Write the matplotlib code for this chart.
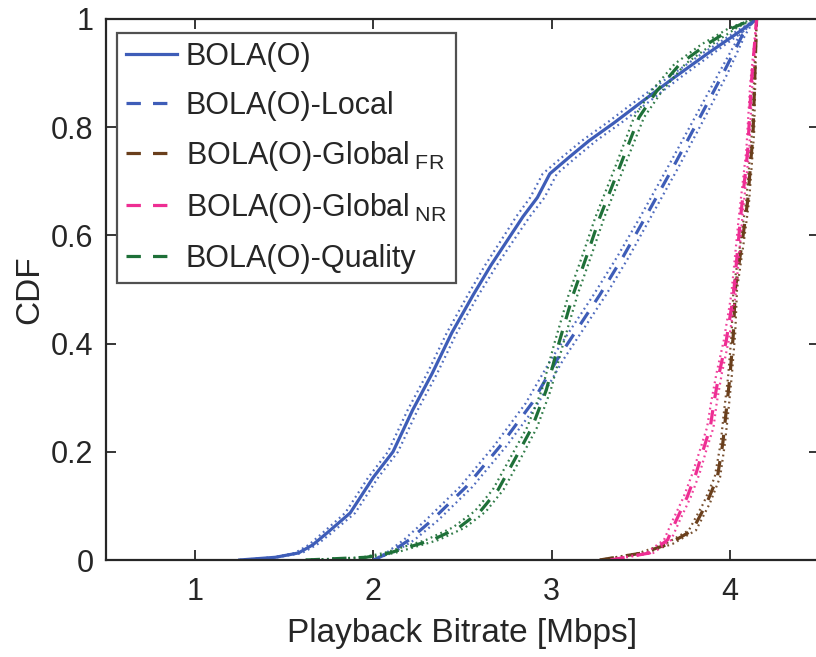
import matplotlib
matplotlib.use("Agg")
import matplotlib.pyplot as plt
import numpy as np

plt.rcParams['font.family'] = ['Liberation Sans', 'DejaVu Sans']

# ---- data (x = bitrate in Mbps, y = CDF) ----
bola_x = [1.25, 1.45, 1.58, 1.66, 1.74, 1.87, 2.00, 2.11, 2.22, 2.33, 2.44, 2.56, 2.66, 2.75, 2.84, 2.92, 2.99, 3.10, 3.21, 3.35, 3.49, 3.68, 3.87, 4.06, 4.15]
bola_y = [0.00, 0.005, 0.013, 0.028, 0.05, 0.087, 0.153, 0.20, 0.277, 0.345, 0.42, 0.49, 0.545, 0.59, 0.635, 0.67, 0.714, 0.745, 0.775, 0.808, 0.843, 0.89, 0.935, 0.978, 1.00]
bola_band = [0.00, 0.01, 0.02, 0.022, 0.025, 0.028, 0.028, 0.028, 0.028, 0.028, 0.028, 0.03, 0.033, 0.035, 0.038, 0.04, 0.04, 0.04, 0.04, 0.04, 0.04, 0.035, 0.03, 0.02, 0.00]

local_x = [2.00, 2.10, 2.20, 2.33, 2.52, 2.71, 2.89, 3.03, 3.15, 3.27, 3.40, 3.52, 3.68, 3.83, 3.96, 4.07, 4.14]
local_y = [0.00, 0.015, 0.037, 0.074, 0.135, 0.21, 0.29, 0.37, 0.43, 0.49, 0.56, 0.63, 0.725, 0.817, 0.898, 0.97, 1.00]
local_band = [0.0, 0.02, 0.03, 0.035, 0.035, 0.035, 0.035, 0.035, 0.035, 0.035, 0.033, 0.03, 0.03, 0.028, 0.025, 0.015, 0.0]

fr_x = [3.27, 3.51, 3.66, 3.79, 3.87, 3.93, 3.96, 3.98, 4.00, 4.02, 4.03, 4.07, 4.10, 4.13, 4.15]
fr_y = [0.00, 0.013, 0.03, 0.055, 0.105, 0.153, 0.215, 0.277, 0.338, 0.42, 0.50, 0.59, 0.664, 0.79, 1.00]
fr_band = [0.0, 0.02, 0.02, 0.02, 0.018, 0.015, 0.012, 0.012, 0.01, 0.01, 0.01, 0.009, 0.008, 0.006, 0.0]

nr_x = [3.33, 3.55, 3.65, 3.70, 3.76, 3.81, 3.85, 3.89, 3.91, 3.94, 3.98, 4.02, 4.06, 4.10, 4.12, 4.15]
nr_y = [0.00, 0.013, 0.037, 0.074, 0.116, 0.16, 0.203, 0.245, 0.29, 0.345, 0.406, 0.49, 0.633, 0.756, 0.88, 1.00]
nr_band = [0.0, 0.02, 0.02, 0.02, 0.02, 0.02, 0.018, 0.018, 0.016, 0.015, 0.014, 0.012, 0.01, 0.008, 0.006, 0.0]

qual_x = [1.62, 1.96, 2.09, 2.33, 2.48, 2.60, 2.70, 2.80, 2.89, 2.97, 3.04, 3.12, 3.20, 3.27, 3.38, 3.49, 3.59, 3.72, 3.87, 4.02, 4.13]
qual_y = [0.00, 0.005, 0.013, 0.037, 0.06, 0.09, 0.13, 0.19, 0.245, 0.314, 0.40, 0.49, 0.565, 0.633, 0.725, 0.818, 0.867, 0.917, 0.953, 0.984, 1.00]
qual_band = [0.0, 0.02, 0.03, 0.035, 0.035, 0.032, 0.03, 0.03, 0.028, 0.025, 0.025, 0.025, 0.025, 0.025, 0.025, 0.028, 0.03, 0.03, 0.03, 0.02, 0.0]

labels = ['BOLA(O)', 'BOLA(O)-Local', r'BOLA(O)-Global$\,_{\mathregular{FR}}$',
          r'BOLA(O)-Global$\,_{\mathregular{NR}}$', 'BOLA(O)-Quality']
colors = ['#3E5DB8', '#3E5DB8', '#6A3F1C', '#EE2E93', '#1E7038']
styles = ['-', (0, (4.5, 3.8)), (0, (4.5, 3.8)), (0, (4.5, 3.8)), (0, (4.5, 3.8))]

xticks = [1, 2, 3, 4]
yticks = [0, 0.2, 0.4, 0.6, 0.8, 1]
ytick_labels = ['0', '0.2', '0.4', '0.6', '0.8', '1']

fig = plt.figure(figsize=(8.16, 6.57), dpi=100)
ax = fig.add_axes([106 / 816, 1 - 560 / 657, (819 - 106) / 816, (560 - 19) / 657])

series = [(bola_x, bola_y, bola_band), (local_x, local_y, local_band),
          (fr_x, fr_y, fr_band), (nr_x, nr_y, nr_band), (qual_x, qual_y, qual_band)]

handles = []
for (sx, sy, sb), lab, col, ls in zip(series, labels, colors, styles):
    sx = np.asarray(sx); sy = np.asarray(sy); sb = np.asarray(sb)
    ax.plot(sx - sb, sy, color=col, lw=1.6, ls=(0, (0.8, 1.6)), alpha=0.9)
    ax.plot(sx + sb, sy, color=col, lw=1.6, ls=(0, (0.8, 1.6)), alpha=0.9)
    h, = ax.plot(sx, sy, color=col, lw=2.3, ls=ls, label=lab)
    handles.append(h)

ax.set_xlim(0.5, 4.5)
ax.set_ylim(0, 1)
ax.set_xticks(xticks)
ax.set_yticks(yticks)
ax.set_yticklabels(ytick_labels)
ax.tick_params(direction='in', length=7, width=1.3, labelsize=22, colors='#262626',
               top=True, right=True)
ax.tick_params(axis='x', pad=12)
ax.tick_params(axis='y', pad=9)
for s in ax.spines.values():
    s.set_linewidth(1.6)
    s.set_color('#262626')
ax.set_xlabel('Playback Bitrate [Mbps]', fontsize=24, color='#262626', labelpad=8)
ax.set_ylabel('CDF', fontsize=24, color='#262626', labelpad=4)

leg = ax.legend(handles=handles, loc='upper left', bbox_to_anchor=(11 / 713, 1 - 14 / 541),
                fontsize=22, frameon=True, fancybox=False, edgecolor='#262626',
                handlelength=1.65, handletextpad=0.3, borderpad=0.3, labelspacing=0.6,
                borderaxespad=0)
leg.get_frame().set_linewidth(1.6)
for t in leg.get_texts():
    t.set_color('#262626')

fig.savefig('out.png', dpi=100)
